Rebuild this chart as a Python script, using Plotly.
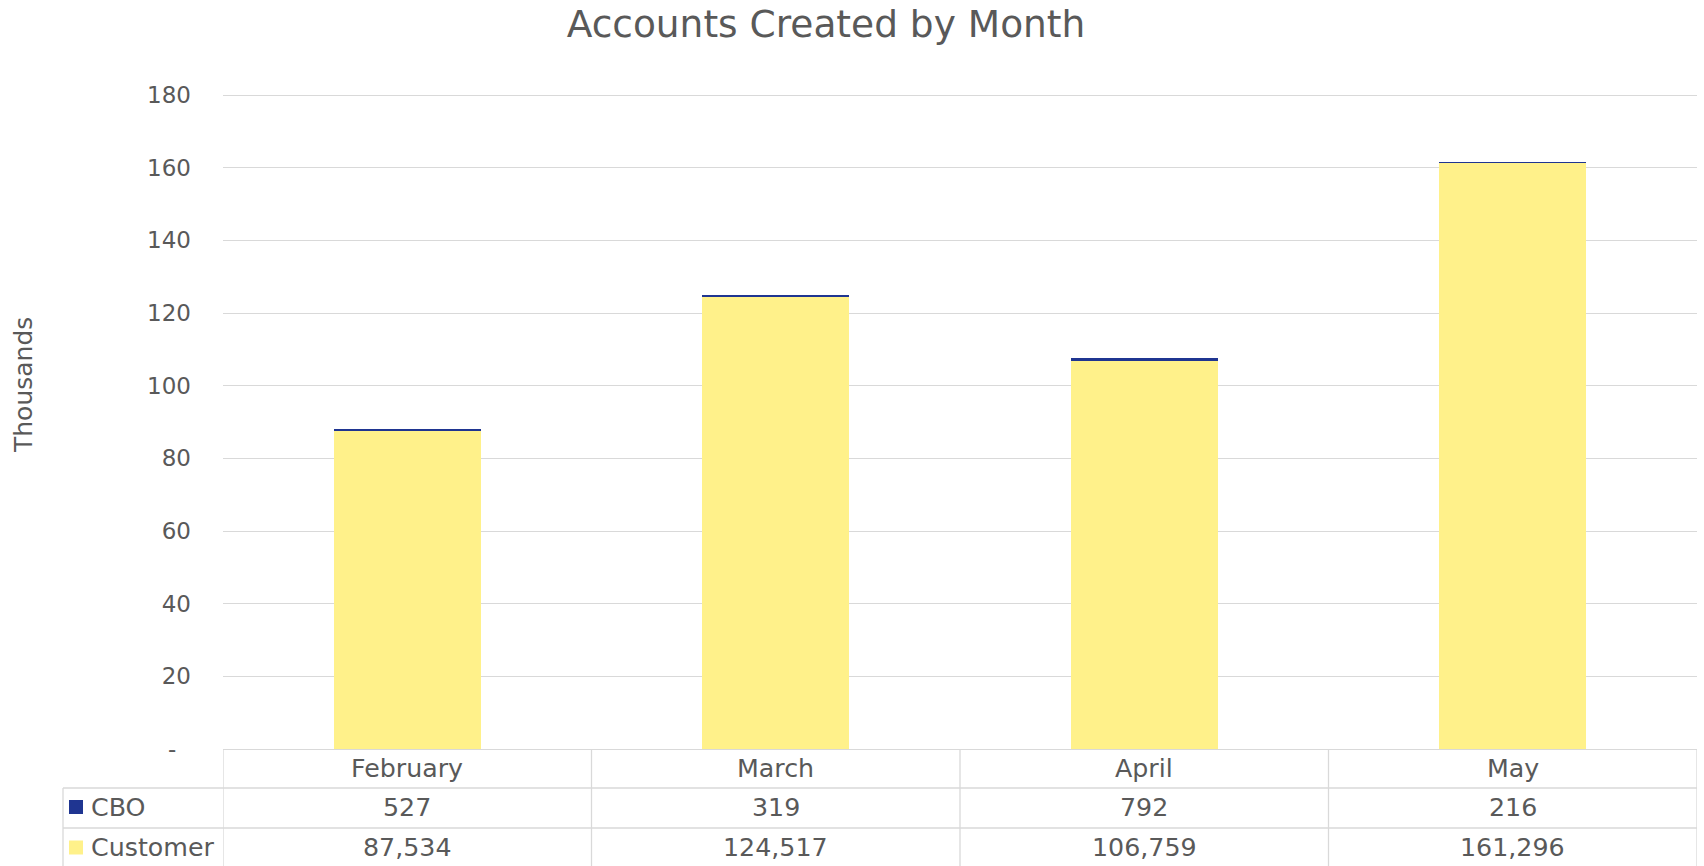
import plotly.graph_objects as go

months = ["February", "March", "April", "May"]
cbo = [527, 319, 792, 216]
customer = [87534, 124517, 106759, 161296]
series_names = ["CBO", "Customer"]
y_tickvals = [0, 20, 40, 60, 80, 100, 120, 140, 160, 180]
y_ticktext = ["-\u00a0\u00a0", "20", "40", "60", "80", "100", "120", "140", "160", "180"]

YELLOW = "#FFF18A"
BLUE = "#1F3591"
GRID = "#D9D9D9"
TXT = "#595959"
FONT = "DejaVu Sans"

W, H = 1704, 866
ML, MR, MT, MB = 223, 7, 93, 117
PW, PH = W - ML - MR, H - MT - MB
K = 654 / 180.0  # pixels per thousand
Y_TOP = 180 + (95 - MT) / K


def px_x(p):
    return (p - ML) / PW


def px_y(p):
    return (H - MB - p) / PH


fig = go.Figure()
fig.add_trace(go.Bar(x=months, y=[v / 1000 for v in customer], name="Customer",
                     marker=dict(color=YELLOW, line=dict(width=0))))
fig.add_trace(go.Bar(x=months, y=[v / 1000 for v in cbo], name="CBO",
                     marker=dict(color=BLUE, line=dict(width=0))))

shapes = []
annotations = []

row_top = [H - MB, 788, 828, 870]
legend_left = px_x(63)
for i in range(len(months) + 1):
    shapes.append(dict(type="line", xref="x", yref="paper", x0=i - 0.5, x1=i - 0.5,
                       y0=0, y1=px_y(row_top[3]), line=dict(color=GRID, width=1.3)))
shapes.append(dict(type="line", xref="paper", yref="paper", x0=legend_left, x1=legend_left,
                   y0=px_y(row_top[1]), y1=px_y(row_top[3]), line=dict(color=GRID, width=1.3)))
for r in row_top[1:3]:
    shapes.append(dict(type="line", xref="paper", yref="paper", x0=legend_left, x1=1,
                       y0=px_y(r), y1=px_y(r), line=dict(color=GRID, width=1.3)))

TS = 25.3
row_centers = [(row_top[0] + row_top[1]) / 2, (row_top[1] + row_top[2]) / 2 - 1, 847.5]
for m in months:
    annotations.append(dict(x=m, y=px_y(row_centers[0]), xref="x", yref="paper", text=m,
                            showarrow=False, xanchor="center", yanchor="middle",
                            font=dict(family=FONT, size=TS, color=TXT)))
series_vals = [cbo, customer]
series_cols = [BLUE, YELLOW]
for k, (nm, vals, col) in enumerate(zip(series_names, series_vals, series_cols)):
    yc = row_centers[k + 1]
    for m, v in zip(months, vals):
        annotations.append(dict(x=m, y=px_y(yc), xref="x", yref="paper", text=f"{v:,}",
                                showarrow=False, xanchor="center", yanchor="middle",
                                font=dict(family=FONT, size=TS, color=TXT)))
    annotations.append(dict(x=px_x(89), y=px_y(yc), xref="paper", yref="paper", text=nm,
                            showarrow=False, xanchor="left", yanchor="middle",
                            font=dict(family=FONT, size=TS, color=TXT)))
    shapes.append(dict(type="rect", xref="paper", yref="paper", x0=px_x(69), x1=px_x(83),
                       y0=px_y(yc + 7), y1=px_y(yc - 7), fillcolor=col, line=dict(width=0)))

annotations.append(dict(x=px_x(24), y=px_y(385), xref="paper", yref="paper", text="Thousands",
                        textangle=-90, showarrow=False, xanchor="center", yanchor="middle",
                        font=dict(family=FONT, size=25, color=TXT)))

fig.update_layout(
    width=W, height=H,
    margin=dict(l=ML, r=MR, t=MT, b=MB, pad=0),
    barmode="stack", bargap=0.6,
    plot_bgcolor="white", paper_bgcolor="white",
    showlegend=False,
    title=dict(text="Accounts Created by Month", x=826 / W, xanchor="center",
               y=1 - 24 / H, yanchor="middle", font=dict(family=FONT, size=37.5, color=TXT)),
    xaxis=dict(range=[-0.5, 3.5], showticklabels=False, ticks="", showgrid=False,
               showline=True, linecolor=GRID, linewidth=1.3, zeroline=False),
    yaxis=dict(range=[0, Y_TOP], tickvals=y_tickvals, ticktext=y_ticktext, showgrid=True,
               gridcolor=GRID, gridwidth=1.3, zeroline=False, showline=False, ticks="",
               ticklabelstandoff=31, tickfont=dict(family=FONT, size=23, color=TXT)),
    shapes=shapes, annotations=annotations,
)
fig.write_html("out.html", config={"displayModeBar": False},
               post_script="document.body.style.margin='0';document.body.style.overflow='hidden';")
